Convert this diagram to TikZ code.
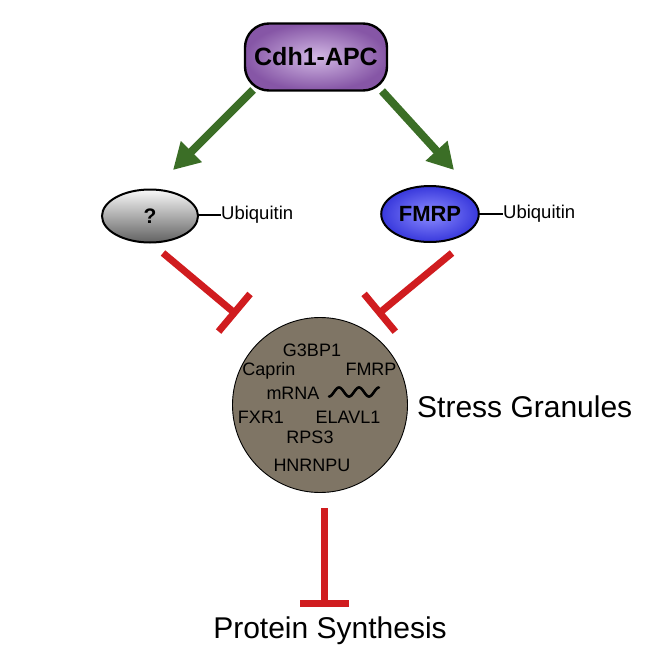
\documentclass[tikz,border=0pt]{standalone}
\usepackage{fontspec}
\setmainfont{Liberation Sans}
\usetikzlibrary{arrows.meta,shapes.geometric}
\definecolor{apcin}{HTML}{D2B8E4}
\definecolor{apcout}{HTML}{8656A6}
\definecolor{fmrpin}{HTML}{8C8CFF}
\definecolor{fmrpout}{HTML}{3838DC}
\definecolor{sgfill}{HTML}{7F7565}
\definecolor{actgreen}{HTML}{3B6E26}
\definecolor{inhred}{HTML}{D01C1F}
\newcommand{\fs}[1]{\fontsize{#1}{#1}\selectfont}
\tikzset{
  apcbox/.style={rounded corners=24pt, draw=black, line width=2.4pt, minimum width=142pt, minimum height=67pt,
    inner color=apcin, outer color=apcout, font=\fs{25}\bfseries},
  qell/.style={ellipse, draw=black, line width=2pt, minimum width=96pt, minimum height=53pt,
    top color=gray!5, bottom color=black!62, font=\fs{21}\bfseries},
  fmrpell/.style={ellipse, draw=black, line width=2pt, minimum width=95pt, minimum height=56pt,
    inner color=fmrpin, outer color=fmrpout, font=\fs{22}\bfseries},
  ubtext/.style={anchor=west, inner sep=0pt, font=\fs{18.5}},
  sgtext/.style={inner sep=0pt, font=\fs{18}},
  bigtext/.style={inner sep=0pt, font=\fs{30}},
  actarrow/.style={draw=actgreen, line width=8pt, -{Triangle[length=26pt,width=28pt]}},
  inharrow/.style={draw=inhred, line width=7pt, -{Bar[width=49pt]}},
  ubline/.style={draw=black, line width=1.2pt},
}
\begin{document}
\begin{tikzpicture}[x=1pt,y=-1pt]
\useasboundingbox (0,0) rectangle (664,664);
% nodes
\node[apcbox] (apc) at (316,57) {Cdh1-APC};
\node[qell] (q) at (150,216) {?};
\node[fmrpell] (fmrp) at (430,214) {FMRP};
\coordinate (qr) at (198,215);
\coordinate (fr) at (478,214);
\node[ubtext] (ub1) at (221,215) {Ubiquitin};
\node[ubtext] (ub2) at (503,214) {Ubiquitin};
\draw[ubline] (qr) -- (ub1.west);
\draw[ubline] (fr) -- (ub2.west);
% stress granule
\node[circle, draw=black, line width=0.9pt, fill=sgfill, minimum size=175pt, inner sep=0pt] (sg) at (320,405) {};
\node[sgtext] (g3) at (312,350) {G3BP1};
\node[sgtext] (cap) at (269,371) {Caprin};
\node[sgtext] (fm2) at (371,369) {FMRP};
\node[sgtext] (mrna) at (293,393) {mRNA};
\node[sgtext] (fxr) at (261,417) {FXR1};
\node[sgtext] (elav) at (348,417) {ELAVL1};
\node[sgtext] (rps) at (310,437) {RPS3};
\node[sgtext] (hnr) at (312,465) {HNRNPU};
\draw[line width=2.6pt, line cap=round] plot[domain=0:1, samples=80] ({329+50*\x},{392+4.5*cos(\x*900)});
\node[bigtext, anchor=west] (sgl) at (417,407) {Stress Granules};
\node[bigtext] (ps) at (330,631) {Protein Synthesis};
% activation arrows
\coordinate (a1s) at (253,90);
\coordinate (a1e) at (173,170);
\coordinate (a2s) at (382,91);
\coordinate (a2e) at (454,170);
\draw[actarrow] (a1s) -- (a1e);
\draw[actarrow] (a2s) -- (a2e);
% inhibition
\coordinate (i1s) at (163,253);
\coordinate (i1e) at (237,315);
\coordinate (i2s) at (452,253);
\coordinate (i2e) at (377,315);
\draw[inharrow] (i1s) -- (i1e);
\draw[inharrow] (i2s) -- (i2e);
\coordinate (i3s) at (324,508);
\coordinate (i3e) at (324,607);
\draw[inharrow] (i3s) -- (i3e);
\end{tikzpicture}
\end{document}
